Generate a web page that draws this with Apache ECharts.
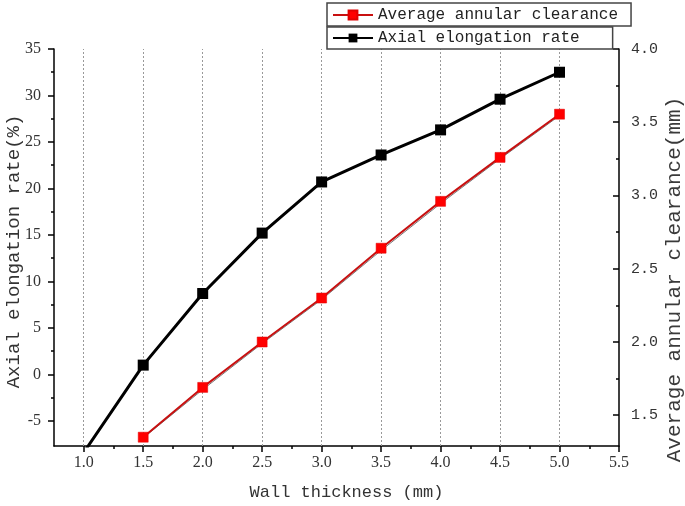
<!DOCTYPE html>
<html>
<head>
<meta charset="utf-8">
<script src="https://cdn.jsdelivr.net/npm/echarts@6/dist/echarts.min.js"></script>
<style>html,body{margin:0;padding:0;background:#fff;}#c{width:685px;height:506px;}</style>
</head>
<body>
<div id="c"></div>
<script>
// ---- data ----
var wallThickness = [1.0, 1.5, 2.0, 2.5, 3.0, 3.5, 4.0, 4.5, 5.0];
var elongationRate = [-8.4, 1.0, 8.7, 15.2, 20.7, 23.6, 26.3, 29.6, 32.5];
var clearanceX = [1.5, 2.0, 2.5, 3.0, 3.5, 4.0, 4.5, 5.0];
var clearance = [1.35, 1.69, 2.00, 2.30, 2.64, 2.96, 3.26, 3.555];
var clearanceFit = [1.345, 1.675, 1.99, 2.29, 2.625, 2.945, 3.25, 3.545];
var xTicks = [1.0, 1.5, 2.0, 2.5, 3.0, 3.5, 4.0, 4.5, 5.0, 5.5];
var xMinorTicks = [1.25, 1.75, 2.25, 2.75, 3.25, 3.75, 4.25, 4.75, 5.25];
var xGrid = [1.0, 1.5, 2.0, 2.5, 3.0, 3.5, 4.0, 4.5, 5.0];
var leftTicks = [-5, 0, 5, 10, 15, 20, 25, 30, 35];
var leftMinorTicks = [-2.5, 2.5, 7.5, 12.5, 17.5, 22.5, 27.5, 32.5];
var rightTicks = [1.5, 2.0, 2.5, 3.0, 3.5, 4.0];
var rightMinorTicks = [1.75, 2.25, 2.75, 3.25, 3.75];
var nameClearance = 'Average annular clearance';
var nameElong = 'Axial elongation rate';

function zip(xs, ys) { return xs.map(function (x, i) { return [x, ys[i]]; }); }

var XMIN = 0.75, XMAX = 5.5, LMIN = -7.7, LMAX = 35, RMIN = 1.29, RMAX = 4.0;
var mono = 'Liberation Mono';
var serif = 'Liberation Serif';

var chart = echarts.init(document.getElementById('c'), null, {renderer: 'canvas'});
var option = {
  animation: false,
  backgroundColor: '#fff',
  grid: {left: 54, right: 66, top: 49, bottom: 60, containLabel: false, outerBoundsMode: 'none'},
  legend: [
    {
      data: [nameClearance], left: 327, top: 3, orient: 'horizontal',
      borderColor: '#444', borderWidth: 1.5, borderRadius: 0,
      padding: [4, 13, 3, 5], itemWidth: 40, itemHeight: 11, itemGap: 0,
      textStyle: {fontFamily: mono, fontSize: 16, color: '#222'}
    },
    {
      data: [nameElong], left: 327, top: 27, orient: 'horizontal',
      borderColor: '#444', borderWidth: 1.5, borderRadius: 0,
      padding: [3, 33, 3, 5], itemWidth: 40, itemHeight: 11, itemGap: 0,
      textStyle: {fontFamily: mono, fontSize: 16, color: '#222'}
    }
  ],
  xAxis: [
    {
      type: 'value', min: XMIN, max: XMAX, position: 'bottom',
      name: 'Wall thickness (mm)', nameLocation: 'middle', nameGap: 38, nameMoveOverlap: false,
      nameTextStyle: {fontFamily: mono, fontSize: 17, color: '#333', padding: [0, 0, 0, 20]},
      axisLine: {show: true, onZero: false, lineStyle: {color: '#000', width: 1.5}},
      axisTick: {show: true, inside: false, length: 6, lineStyle: {color: '#000', width: 1.5}, customValues: xTicks},
      axisLabel: {customValues: xTicks, fontFamily: serif, fontSize: 16, color: '#333', margin: 9,
        formatter: function (v) { return v.toFixed(1); }},
      splitLine: {show: false}
    },
    {
      type: 'value', min: XMIN, max: XMAX, position: 'bottom',
      axisLine: {show: false, onZero: false},
      axisTick: {show: true, inside: false, length: 3, lineStyle: {color: '#000', width: 1.5}, customValues: xMinorTicks},
      axisLabel: {show: false},
      splitLine: {show: false}
    }
  ],
  yAxis: [
    {
      type: 'value', min: LMIN, max: LMAX, position: 'left',
      name: 'Axial elongation rate(%)', nameLocation: 'middle', nameGap: 31, nameMoveOverlap: false,
      nameTextStyle: {fontFamily: mono, fontSize: 19, color: '#333', padding: [0, 8, 0, 0]},
      axisLine: {show: true, onZero: false, lineStyle: {color: '#000', width: 1.5}},
      axisTick: {show: true, inside: false, length: 6, lineStyle: {color: '#000', width: 1.5}, customValues: leftTicks},
      axisLabel: {customValues: leftTicks, fontFamily: serif, fontSize: 16, color: '#333', margin: 13},
      splitLine: {show: false}
    },
    {
      type: 'value', min: RMIN, max: RMAX, position: 'right',
      name: 'Average annular clearance(mm)', nameLocation: 'middle', nameGap: 45, nameMoveOverlap: false,
      nameTextStyle: {fontFamily: mono, fontSize: 21, color: '#3a3a3a', padding: [0, 64, 0, 0]},
      axisLine: {show: true, onZero: false, lineStyle: {color: '#000', width: 1.5}},
      axisTick: {show: true, inside: true, length: 6, lineStyle: {color: '#000', width: 1.5}, customValues: rightTicks},
      axisLabel: {customValues: rightTicks, fontFamily: mono, fontSize: 15, color: '#333', margin: 12,
        formatter: function (v) { return v.toFixed(1); }},
      splitLine: {show: false}
    },
    {
      type: 'value', min: LMIN, max: LMAX, position: 'left',
      axisLine: {show: false, onZero: false},
      axisTick: {show: true, inside: false, length: 3, lineStyle: {color: '#000', width: 1.5}, customValues: leftMinorTicks},
      axisLabel: {show: false}, splitLine: {show: false}
    },
    {
      type: 'value', min: RMIN, max: RMAX, position: 'right',
      axisLine: {show: false, onZero: false},
      axisTick: {show: true, inside: true, length: 3, lineStyle: {color: '#000', width: 1.5}, customValues: rightMinorTicks},
      axisLabel: {show: false}, splitLine: {show: false}
    }
  ],
  series: [
    {
      name: 'grid', type: 'line', xAxisIndex: 0, yAxisIndex: 0, data: [], silent: true, z: 1,
      markLine: {
        silent: true, symbol: 'none', animation: false, z: 1,
        label: {show: false},
        lineStyle: {type: [2, 2], color: '#999', width: 1},
        data: xGrid.map(function (v) { return {xAxis: v}; })
      }
    },
    {
      name: 'fit', type: 'line', xAxisIndex: 0, yAxisIndex: 1,
      data: zip(clearanceX, clearanceFit), showSymbol: false, symbol: 'none',
      lineStyle: {color: '#777', width: 1}, z: 2, silent: true
    },
    {
      name: nameClearance, type: 'line', xAxisIndex: 0, yAxisIndex: 1,
      data: zip(clearanceX, clearance), symbol: 'rect', symbolSize: 10,
      itemStyle: {color: '#ff0000', borderColor: '#e00000', borderWidth: 0.5},
      lineStyle: {color: '#c81010', width: 2}, z: 3
    },
    {
      name: nameElong, type: 'line', xAxisIndex: 0, yAxisIndex: 0,
      data: zip(wallThickness, elongationRate), symbol: 'rect', symbolSize: 11,
      itemStyle: {color: '#000'}, lineStyle: {color: '#000', width: 3}, z: 4, clip: true
    }
  ]
};
chart.setOption(option);
</script>
</body>
</html>
